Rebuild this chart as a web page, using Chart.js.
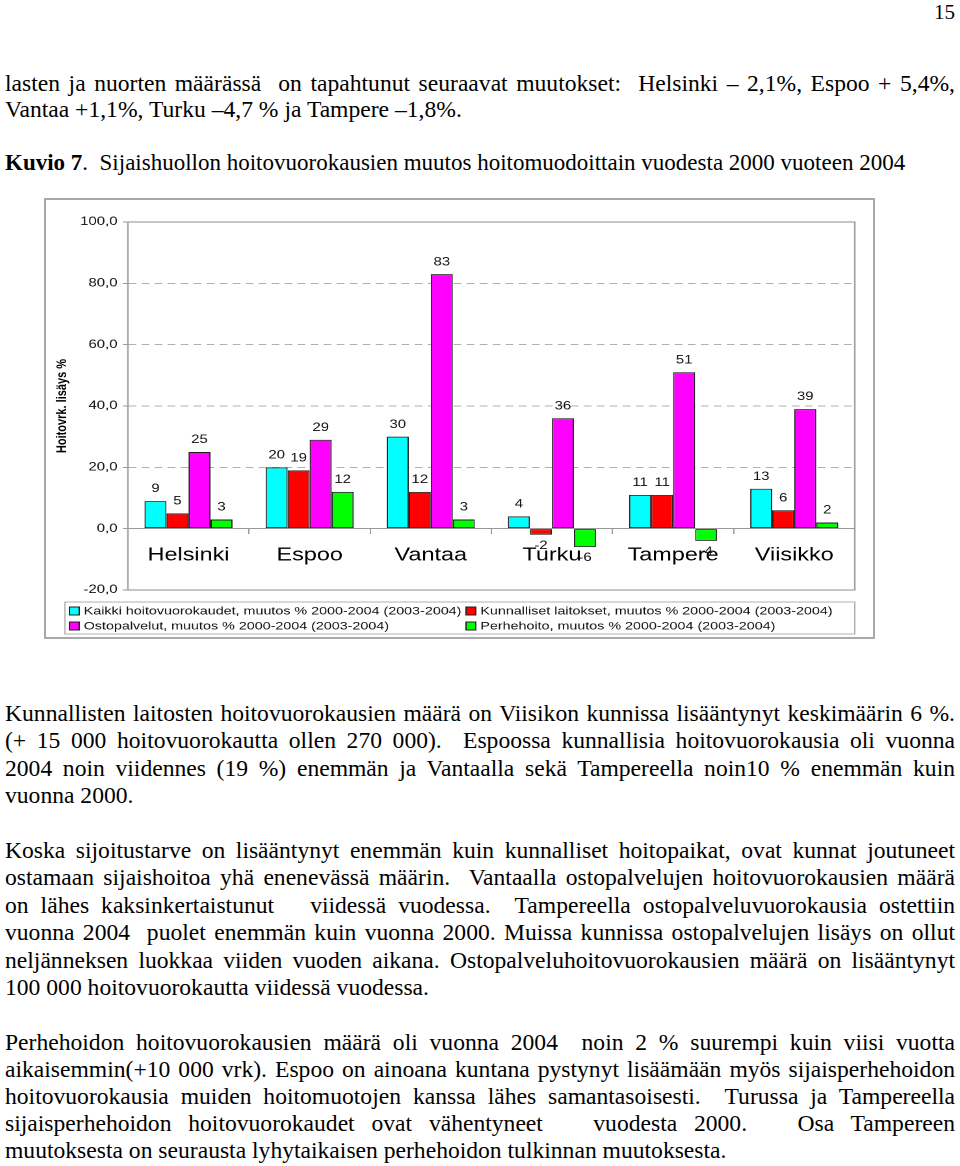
<!DOCTYPE html>
<html>
<head>
<meta charset="utf-8">
<script src="https://cdn.jsdelivr.net/npm/chart.js@4/dist/chart.umd.min.js"></script>
<style>
  body { margin: 0; background: #fff; width: 960px; height: 1166px; position: relative; overflow: hidden; }
  .t { position: absolute; left: 5px; width: 950px; font-family: "Liberation Serif", "Times New Roman", serif; font-size: 23.6px; line-height: 26px; color: #000; white-space: nowrap; }
  .j { text-align: justify; text-align-last: justify; }
  #box { position: absolute; left: 44px; top: 198px; width: 831px; height: 441px; box-sizing: border-box; border: 2px solid #a8a8a8; overflow: hidden; }
  #chart { display: block; transform-origin: 0 0; }
</style>
</head>
<body>
<div class="t" style="top:-1px;left:auto;right:5px;width:auto;font-size:21px">15</div>
<div class="t j" style="top:70px">lasten ja nuorten määrässä &nbsp;on tapahtunut seuraavat muutokset: &nbsp;Helsinki – 2,1%, Espoo + 5,4%,</div>
<div class="t" style="top:96px">Vantaa +1,1%, Turku –4,7 % ja Tampere –1,8%.</div>
<div class="t" style="top:150px;font-size:23px"><b>Kuvio 7</b>. &nbsp;Sijaishuollon hoitovuorokausien muutos hoitomuodoittain vuodesta 2000 vuoteen 2004</div>

<div id="box"><canvas id="chart" width="636" height="436"></canvas></div>

<div class="t j" style="top:700px">Kunnallisten laitosten hoitovuorokausien määrä on Viisikon kunnissa lisääntynyt keskimäärin 6 %.</div>
<div class="t j" style="top:727px">(+ 15 000 hoitovuorokautta ollen 270 000). &nbsp;Espoossa kunnallisia hoitovuorokausia oli vuonna</div>
<div class="t j" style="top:755px">2004 noin viidennes (19 %) enemmän ja Vantaalla sekä Tampereella noin10 % enemmän kuin</div>
<div class="t" style="top:782px">vuonna 2000.</div>

<div class="t j" style="top:837px">Koska sijoitustarve on lisääntynyt enemmän kuin kunnalliset hoitopaikat, ovat kunnat joutuneet</div>
<div class="t j" style="top:864px">ostamaan sijaishoitoa yhä enenevässä määrin. &nbsp;Vantaalla ostopalvelujen hoitovuorokausien määrä</div>
<div class="t j" style="top:892px">on lähes kaksinkertaistunut &nbsp; viidessä vuodessa. &nbsp;Tampereella ostopalveluvuorokausia ostettiin</div>
<div class="t j" style="top:919px">vuonna 2004 &nbsp;puolet enemmän kuin vuonna 2000. Muissa kunnissa ostopalvelujen lisäys on ollut</div>
<div class="t j" style="top:947px">neljänneksen luokkaa viiden vuoden aikana. Ostopalveluhoitovuorokausien määrä on lisääntynyt</div>
<div class="t" style="top:974px">100 000 hoitovuorokautta viidessä vuodessa.</div>

<div class="t j" style="top:1029px">Perhehoidon hoitovuorokausien määrä oli vuonna 2004 &nbsp;noin 2 % suurempi kuin viisi vuotta</div>
<div class="t j" style="top:1056px">aikaisemmin(+10 000 vrk). Espoo on ainoana kuntana pystynyt lisäämään myös sijaisperhehoidon</div>
<div class="t j" style="top:1083px">hoitovuorokausia muiden hoitomuotojen kanssa lähes samantasoisesti. &nbsp;Turussa ja Tampereella</div>
<div class="t j" style="top:1110px">sijaisperhehoidon hoitovuorokaudet ovat vähentyneet &nbsp; vuodesta 2000. &nbsp; Osa Tampereen</div>
<div class="t" style="top:1137px">muutoksesta on seurausta lyhytaikaisen perhehoidon tulkinnan muutoksesta.</div>

<script>
// data
const cities = ["Helsinki", "Espoo", "Vantaa", "Turku", "Tampere", "Viisikko"];
const kaikki = [9, 20, 30, 4, 11, 13];
const kunnalliset = [5, 19, 12, -2, 11, 6];
const ostopalvelut = [25, 29, 83, 36, 51, 39];
const perhehoito = [3, 12, 3, -6, -4, 2];
const seriesNames = [
  "Kaikki hoitovuorokaudet, muutos % 2000-2004 (2003-2004)",
  "Kunnalliset laitokset, muutos % 2000-2004 (2003-2004)",
  "Ostopalvelut, muutos % 2000-2004 (2003-2004)",
  "Perhehoito, muutos % 2000-2004 (2003-2004)"
];
const yMin = -20, yMax = 100, yStep = 20;

const colors = ["#00ffff", "#ff0000", "#ff00ff", "#00ff00"];
const FONT = "'Liberation Sans', Arial, sans-serif";
const stretch = 827 / 636;

const canvas = document.getElementById("chart");
canvas.style.transform = "scaleX(" + stretch + ")";

// frame around plot area
const frame = {
  id: "frame",
  beforeDatasetsDraw(chart) {
    const a = chart.chartArea, c = chart.ctx;
    c.save();
    c.strokeStyle = "#a0a0a0";
    c.lineWidth = 1.2;
    c.strokeRect(a.left, a.top, a.right - a.left, a.bottom - a.top);
    c.restore();
  }
};

// value labels above / below bars
const valueLabels = {
  id: "valueLabels",
  afterDatasetsDraw(chart) {
    const c = chart.ctx;
    c.save();
    c.font = "11.5px " + FONT;
    c.fillStyle = "#111";
    c.textAlign = "center";
    c.textBaseline = "middle";
    chart.data.datasets.forEach((ds, i) => {
      chart.getDatasetMeta(i).data.forEach((bar, j) => {
        const v = ds.data[j];
        const y = v >= 0 ? bar.y - 12 : bar.y + 11;
        c.fillText(String(v), bar.x, y);
      });
    });
    c.restore();
  }
};

// two-column legend in a box under the plot
const legendBox = {
  id: "legendBox",
  afterDraw(chart) {
    const c = chart.ctx;
    const a = chart.chartArea;
    const top = 402, h = 32;
    c.save();
    c.strokeStyle = "#b0b0b0";
    c.lineWidth = 1;
    c.strokeRect(14.6, top, a.right - 14.6, h);
    c.font = "11px " + FONT;
    c.textBaseline = "middle";
    const cols = [18, 323];
    chart.data.datasets.forEach((ds, i) => {
      const x = cols[i % 2];
      const y = top + 9 + Math.floor(i / 2) * 15;
      c.fillStyle = ds.backgroundColor;
      c.fillRect(x, y - 4, 7.5, 8);
      c.strokeStyle = "#202020";
      c.strokeRect(x, y - 4, 7.5, 8);
      c.fillStyle = "#111";
      c.fillText(ds.label, x + 11, y + 0.5);
    });
    c.restore();
  }
};

const allSeries = [kaikki, kunnalliset, ostopalvelut, perhehoito];

new Chart(canvas, {
  type: "bar",
  data: {
    labels: cities,
    datasets: allSeries.map((d, i) => ({
      label: seriesNames[i],
      data: d,
      backgroundColor: colors[i],
      borderColor: "#202020",
      borderWidth: 1,
      borderSkipped: false,
      categoryPercentage: 0.727,
      barPercentage: 1
    }))
  },
  options: {
    responsive: false,
    animation: false,
    devicePixelRatio: 2,
    layout: { padding: { left: 0, right: 14, top: 22, bottom: 46 } },
    plugins: { legend: { display: false }, tooltip: { enabled: false } },
    scales: {
      x: {
        position: { y: 0 },
        offset: true,
        grid: { offset: true, drawOnChartArea: false, drawTicks: true, tickLength: 5, color: "#999", tickColor: "#999" },
        border: { display: true, color: "#999", width: 1 },
        ticks: { font: { family: FONT, size: 18 }, color: "#000", padding: 11, maxRotation: 0 }
      },
      y: {
        min: yMin,
        max: yMax,
        afterFit(scale) { scale.width = 63; },
        ticks: {
          stepSize: yStep,
          font: { family: FONT, size: 11.5 },
          color: "#111",
          padding: 4,
          callback: v => v.toFixed(1).replace(".", ",")
        },
        grid: {
          color: ctx => (ctx.tick && (ctx.tick.value === 0 || ctx.tick.value === yMax || ctx.tick.value === yMin)) ? "rgba(0,0,0,0)" : "#b0b0b0",
          tickColor: "#999",
          tickLength: 4,
          lineWidth: 1
        },
        border: { display: true, color: "#999", dash: [6, 4] },
        title: { display: true, text: "Hoitovrk. lisäys %", font: { family: FONT, size: 11, weight: "bold" }, color: "#000", padding: { top: 6, bottom: 0 } }
      }
    }
  },
  plugins: [frame, valueLabels, legendBox]
});
</script>
</body>
</html>
